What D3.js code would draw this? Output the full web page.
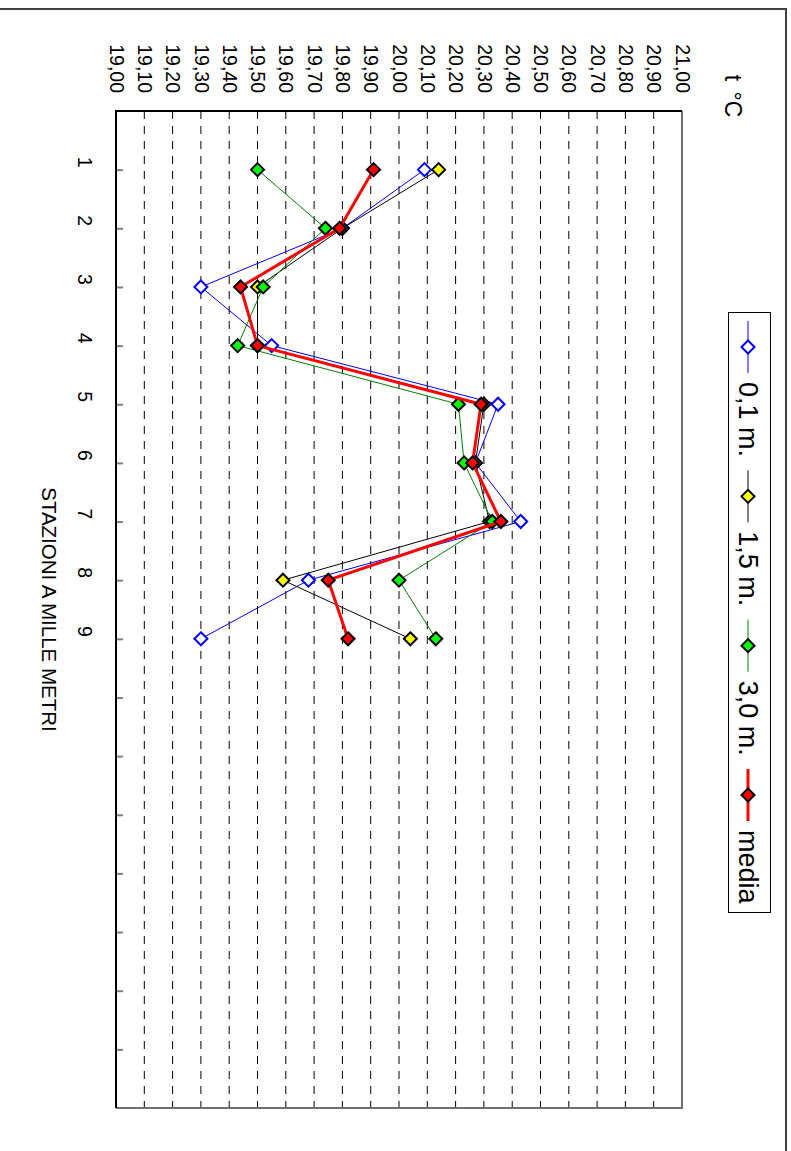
<!DOCTYPE html>
<html lang="it">
<head>
<meta charset="utf-8">
<title>Temperature stazioni</title>
<script src="https://cdn.jsdelivr.net/npm/d3@7/dist/d3.min.js"></script>
<style>
  body {margin: 0; background: white;}
  svg {display: block; font-family: "Liberation Sans", Arial, sans-serif;}
</style>
</head>
<body>
<svg width="791" height="1151"></svg>
<script>
// stazioni (categorie) e valori
var stazioni = ["1", "2", "3", "4", "5", "6", "7", "8", "9"];
var t01 = [20.09, 19.80, 19.30, 19.55, 20.35, 20.27, 20.43, 19.68, 19.30];
var t15 = [20.14, 19.80, 19.50, 19.50, 20.30, 20.27, 20.32, 19.59, 20.04];
var t30 = [19.50, 19.74, 19.52, 19.43, 20.21, 20.23, 20.33, 20.00, 20.13];
var media = [19.91, 19.79, 19.44, 19.50, 20.29, 20.26, 20.36, 19.75, 19.82];
var nomiSerie = ["0,1 m.", "1,5 m.", "3,0 m.", "media"];
var tickTemp = [19.0, 19.1, 19.2, 19.3, 19.4, 19.5, 19.6, 19.7, 19.8, 19.9, 20.0,
                20.1, 20.2, 20.3, 20.4, 20.5, 20.6, 20.7, 20.8, 20.9, 21.0];
var tickCat = [1, 2, 3, 4, 5, 6, 7, 8, 9, 10, 11, 12, 13, 14, 15, 16];

var serie = [
  {nome: nomiSerie[0], valori: t01, linea: "#0000ff", riemp: "white", bordo: "#0000ff", spessore: 1},
  {nome: nomiSerie[1], valori: t15, linea: "#000000", riemp: "#ffff00", bordo: "#000000", spessore: 1},
  {nome: nomiSerie[2], valori: t30, linea: "#008000", riemp: "#00ff00", bordo: "#000000", spessore: 1},
  {nome: nomiSerie[3], valori: media, linea: "#ff0000", riemp: "#ff0000", bordo: "#000000", spessore: 3}
];

var sinistra = 116, destra = 682, alto = 111, basso = 1108;
var svg = d3.select("svg");

var x = d3.scaleLinear().domain([19, 21]).range([sinistra, destra]);
var y = d3.scaleLinear().domain([0, 17]).range([alto, basso]);

var it = d3.formatLocale({decimal: ",", thousands: ".", grouping: [3], currency: ["", "€"]});
var fmt = it.format(".2f");

// cornice esterna (solo alto e destra)
svg.append("path")
  .attr("d", "M0,9H786V1151")
  .attr("fill", "none")
  .attr("stroke", "#404040")
  .attr("stroke-width", 2);

// griglia tratteggiata
svg.append("g")
  .selectAll("line")
  .data(tickTemp.slice(1, -1))
  .enter()
  .append("line")
    .attr("x1", function (d) { return x(d); })
    .attr("x2", function (d) { return x(d); })
    .attr("y1", alto)
    .attr("y2", basso)
    .attr("stroke", "black")
    .attr("stroke-width", 1)
    .attr("stroke-dasharray", "8,7");

// bordo area del grafico
svg.append("path")
  .attr("d", "M" + destra + "," + alto + "V" + basso + "H" + sinistra)
  .attr("fill", "none")
  .attr("stroke", "#707070")
  .attr("stroke-width", 2);

// asse temperature (in alto)
var asseT = svg.append("g")
  .attr("transform", "translate(0," + alto + ")")
  .call(d3.axisTop(x).tickValues(tickTemp).tickSize(0).tickFormat(fmt));
asseT.select(".domain").remove();
asseT.selectAll("text")
  .attr("x", -18)
  .attr("y", 0)
  .attr("dy", "0.35em")
  .attr("transform", "rotate(90)")
  .style("text-anchor", "end")
  .style("font-size", "19.5px")
  .attr("fill", "black");

// asse stazioni (a sinistra)
var asseS = svg.append("g")
  .attr("transform", "translate(" + sinistra + ",0)")
  .call(d3.axisLeft(y).tickValues(tickCat).tickSize(-7)
    .tickFormat(function (d) { return stazioni[d - 1] || ""; }));
asseS.select(".domain").remove();
asseS.selectAll("line").attr("stroke", "#808080").attr("stroke-width", 2);
asseS.selectAll("text")
  .attr("x", -8)
  .attr("y", 31)
  .attr("dy", "0.35em")
  .attr("transform", "rotate(90)")
  .style("text-anchor", "middle")
  .style("font-size", "19.5px")
  .attr("fill", "black");

svg.append("path")
  .attr("d", "M" + destra + "," + alto + "H" + sinistra + "V" + basso)
  .attr("fill", "none")
  .attr("stroke", "black")
  .attr("stroke-width", 2);

// titoli assi
svg.append("text")
  .attr("transform", "translate(49," + ((alto + basso) / 2) + ") rotate(90)")
  .attr("dy", "0.35em")
  .style("text-anchor", "middle")
  .style("font-size", "20.5px")
  .text("STAZIONI A MILLE METRI");

svg.append("text")
  .attr("transform", "translate(733,96) rotate(90)")
  .attr("dy", "0.35em")
  .style("text-anchor", "middle")
  .style("font-size", "23px")
  .style("word-spacing", "4px")
  .text("t °C");

// serie
var rombo = "M0,-6.5L6.5,0L0,6.5L-6.5,0Z";
var linea = d3.line()
  .x(function (d) { return x(d); })
  .y(function (d, i) { return y(i + 1); });

serie.forEach(function (s) {
  var g = svg.append("g");
  g.append("path")
    .datum(s.valori)
    .attr("d", linea)
    .attr("fill", "none")
    .attr("stroke", s.linea)
    .attr("stroke-width", s.spessore)
    .attr("stroke-linejoin", "round");
  g.selectAll("path.punto")
    .data(s.valori)
    .enter()
    .append("path")
      .classed("punto", true)
      .attr("d", rombo)
      .attr("transform", function (d, i) { return "translate(" + x(d) + "," + y(i + 1) + ")"; })
      .attr("fill", s.riemp)
      .attr("stroke", s.bordo)
      .attr("stroke-width", 2);
});

// legenda
var leg = svg.append("g");
leg.append("rect")
  .attr("x", 728.5).attr("y", 312.5)
  .attr("width", 42).attr("height", 600)
  .attr("fill", "white")
  .attr("stroke", "black")
  .attr("stroke-width", 1);

var legY = d3.scaleLinear().domain([0, 3]).range([347, 795]);
serie.forEach(function (s, i) {
  var cy = legY(i);
  leg.append("line")
    .attr("x1", 748).attr("x2", 748)
    .attr("y1", cy - 26).attr("y2", cy + 26)
    .attr("stroke", s.linea)
    .attr("stroke-width", s.spessore);
  leg.append("path")
    .attr("d", rombo)
    .attr("transform", "translate(748," + cy + ")")
    .attr("fill", s.riemp)
    .attr("stroke", s.bordo)
    .attr("stroke-width", 2);
  leg.append("text")
    .attr("transform", "translate(748," + (cy + 35) + ") rotate(90)")
    .attr("dy", "0.35em")
    .style("font-size", "27px")
    .text(s.nome);
});
</script>
</body>
</html>
